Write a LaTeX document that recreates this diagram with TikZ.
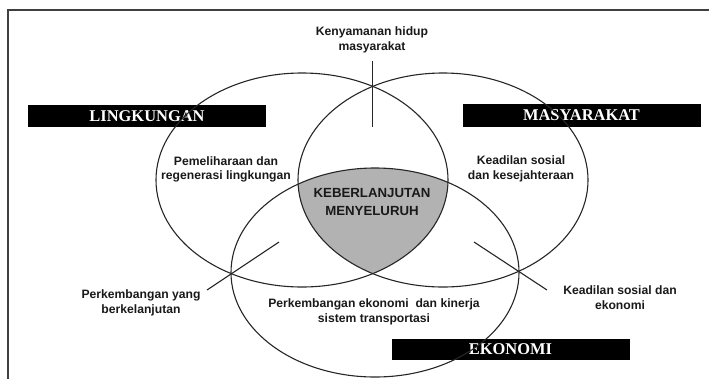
\documentclass[tikz,border=0pt]{standalone}
\usepackage{fontspec}
\setmainfont{Liberation Serif}
\setsansfont{Liberation Sans}
\begin{document}
\begin{tikzpicture}[x=1bp,y=-1bp,
  ring/.style={draw=black!85,line width=1.1bp},
  pointer/.style={draw=black!85,line width=1.1bp},
  headbox/.style={fill=black,text=white,inner sep=0pt,minimum width=238bp,minimum height=22bp,
    font=\rmfamily\bfseries\fontsize{16.5}{18}\selectfont},
  label/.style={align=center,inner sep=0pt,text=black!90,
    font=\sffamily\bfseries\fontsize{12.2}{15}\selectfont},
  core/.style={align=center,inner sep=0pt,text=black!90,
    font=\sffamily\bfseries\fontsize{13.3}{19}\selectfont}]
\useasboundingbox (0,0) rectangle (709,379);
% frame
\draw[black!75,line width=1.3bp] (8,379) -- (8,10) -- (709,10);
% header boxes
\node[headbox] (lingk) at (147,116) {LINGKUNGAN};
\node[headbox,minimum height=23bp] (masy) at (581.5,115) {MASYARAKAT};
\node[headbox,minimum height=21bp] (ekon) at (510.5,349.5) {EKONOMI};
% shaded core
\begin{scope}
  \clip (302,180) ellipse [x radius=146bp, y radius=107bp];
  \clip (443,180) ellipse [x radius=145bp, y radius=107bp];
  \fill[black!30] (375,272.5) ellipse [x radius=144bp, y radius=104.5bp];
\end{scope}
% ellipses
\draw[ring] (302,180) ellipse [x radius=146bp, y radius=107bp];
\draw[ring] (443,180) ellipse [x radius=145bp, y radius=107bp];
\draw[ring] (375,272.5) ellipse [x radius=144bp, y radius=104.5bp];
% pointer lines
\coordinate (ta) at (372.5,61);
\coordinate (tb) at (372.5,127);
\coordinate (la) at (279,242);
\coordinate (lb) at (207,290);
\coordinate (ra) at (474,242);
\coordinate (rb) at (547,290);
\draw[pointer] (ta) -- (tb);
\draw[pointer] (la) -- (lb);
\draw[pointer] (ra) -- (rb);
% texts
\node[label] (kenya) at (372,40) {Kenyamanan hidup\\masyarakat};
\node[label,font=\sffamily\bfseries\fontsize{12.2}{14}\selectfont] (pemel) at (226,169) {Pemeliharaan dan\\regenerasi lingkungan};
\node[label] (keadil) at (521,169) {Keadilan sosial\\dan kesejahteraan};
\node[core] (keber) at (372,202) {KEBERLANJUTAN\\MENYELURUH};
\node[label] (perkyang) at (141,302.5) {Perkembangan yang\\berkelanjutan};
\node[label] (perkeko) at (374,312) {Perkembangan ekonomi\ \ dan kinerja\\sistem transportasi};
\node[label] (keadeko) at (620,297.5) {Keadilan sosial dan\\ekonomi};
\end{tikzpicture}
\end{document}
